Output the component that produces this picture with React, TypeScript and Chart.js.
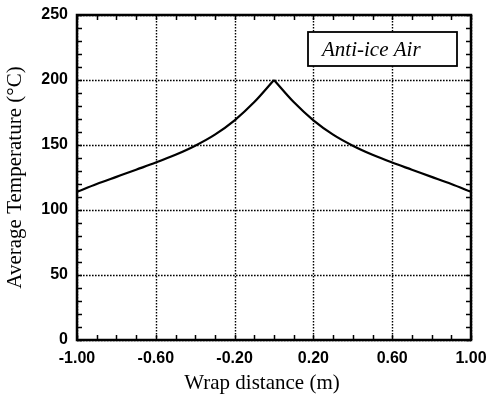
import React, { useEffect, useRef } from "react";
import { Chart, registerables } from "chart.js";

Chart.register(...registerables);

// Wrap distance (m) and average temperature (°C)
const wrapDistance = [-1.0, -0.9, -0.8, -0.7, -0.6, -0.5, -0.4, -0.3, -0.2, -0.1, 0.0, 0.1, 0.2, 0.3, 0.4, 0.5, 0.6, 0.7, 0.8, 0.9, 1.0];
const temperature = [114, 120, 125.5, 131, 136.5, 142.5, 149.5, 158, 169, 183, 200, 183, 169, 158, 149.5, 142.5, 136.5, 131, 125.5, 120, 114];

const xTickValues = [-1.0, -0.6, -0.2, 0.2, 0.6, 1.0];
const yTickValues = [0, 50, 100, 150, 200, 250];
const legendLabel = "Anti-ice Air";
const xTitle = "Wrap distance (m)";
const yTitle = "Average Temperature (°C)";

const frameAndGrid = {
  id: "frameAndGrid",
  beforeDatasetsDraw(chart: any) {
    const { ctx, chartArea: a, scales } = chart;
    const xs = scales.x, ys = scales.y;
    ctx.save();
    ctx.strokeStyle = "#000";
    ctx.lineWidth = 1.4;
    ctx.setLineDash([1.6, 1.4]);
    xTickValues.forEach((v) => {
      const px = Math.round(xs.getPixelForValue(v)) + 0.5;
      ctx.beginPath(); ctx.moveTo(px, a.top); ctx.lineTo(px, a.bottom); ctx.stroke();
    });
    yTickValues.forEach((v) => {
      const py = Math.round(ys.getPixelForValue(v)) + 0.5;
      ctx.beginPath(); ctx.moveTo(a.left, py); ctx.lineTo(a.right, py); ctx.stroke();
    });
    ctx.setLineDash([]);
    ctx.lineWidth = 1.5;
    for (let i = 0; i <= 20; i++) {
      const v = -1 + i * 0.1;
      const px = Math.round(xs.getPixelForValue(v)) + 0.5;
      ctx.beginPath(); ctx.moveTo(px, a.bottom); ctx.lineTo(px, a.bottom - 5); ctx.stroke();
      ctx.beginPath(); ctx.moveTo(px, a.top); ctx.lineTo(px, a.top + 5); ctx.stroke();
    }
    for (let i = 0; i <= 25; i++) {
      const v = i * 10;
      const py = Math.round(ys.getPixelForValue(v)) + 0.5;
      ctx.beginPath(); ctx.moveTo(a.left, py); ctx.lineTo(a.left + 5, py); ctx.stroke();
      ctx.beginPath(); ctx.moveTo(a.right, py); ctx.lineTo(a.right - 5, py); ctx.stroke();
    }
    ctx.restore();
  },
  afterDraw(chart: any) {
    const { ctx, chartArea: a } = chart;
    ctx.save();
    ctx.strokeStyle = "#000";
    ctx.lineWidth = 2.5;
    ctx.strokeRect(a.left, a.top, a.right - a.left, a.bottom - a.top);
    const bx = a.right - 163, by = a.top + 17, bw = 149, bh = 34;
    ctx.fillStyle = "#fff";
    ctx.fillRect(bx, by, bw, bh);
    ctx.lineWidth = 1.8;
    ctx.strokeRect(bx, by, bw, bh);
    ctx.fillStyle = "#000";
    ctx.font = "italic 21px 'Liberation Serif'";
    ctx.textAlign = "left";
    ctx.textBaseline = "middle";
    ctx.fillText(legendLabel, bx + 14, by + bh / 2 + 1);
    // x-axis title (slightly left of the plot centre, as in the original)
    ctx.font = "21px 'Liberation Serif'";
    ctx.textAlign = "center";
    ctx.fillText(xTitle, (a.left + a.right) / 2 - 12, a.bottom + 43);
    ctx.restore();
  },
};

export default function App() {
  const ref = useRef<HTMLCanvasElement>(null);
  useEffect(() => {
    if (!ref.current) return;
    const peak = temperature.indexOf(Math.max(...temperature));
    const pts = wrapDistance.map((x, i) => ({ x, y: temperature[i] }));
    const lineStyle = {
      borderColor: "#000",
      borderWidth: 2.2,
      pointRadius: 0,
      fill: false,
      cubicInterpolationMode: "monotone" as const,
    };
    const chart = new Chart(ref.current, {
      type: "line",
      data: {
        datasets: [
          { ...lineStyle, label: legendLabel, data: pts.slice(0, peak + 1) },
          { ...lineStyle, label: legendLabel, data: pts.slice(peak) },
        ],
      },
      options: {
        animation: false,
        responsive: false,
        layout: { padding: { top: 15, right: 17, left: 0, bottom: 0 } },
        plugins: { legend: { display: false }, tooltip: { enabled: false } },
        scales: {
          x: {
            type: "linear",
            min: -1,
            max: 1,
            afterBuildTicks: (s: any) => { s.ticks = xTickValues.map((v) => ({ value: v })); },
            afterFit: (s: any) => { s.height = 55; s.paddingLeft = 0; s.paddingRight = 0; },
            grid: { display: false, drawTicks: false },
            border: { display: false },
            ticks: {
              color: "#000",
              padding: 9,
              maxRotation: 0,
              font: { family: "'Liberation Sans'", size: 16, weight: "bold" },
              callback: (v: any) => Number(v).toFixed(2),
            },
            title: { display: false, text: xTitle },
          },
          y: {
            type: "linear",
            min: 0,
            max: 250,
            afterBuildTicks: (s: any) => { s.ticks = yTickValues.map((v) => ({ value: v })); },
            afterFit: (s: any) => { s.width = 77; s.paddingTop = 0; s.paddingBottom = 0; },
            grid: { display: false, drawTicks: false },
            border: { display: false },
            ticks: {
              color: "#000",
              padding: 9,
              font: { family: "'Liberation Sans'", size: 16, weight: "bold" },
            },
            title: {
              display: true,
              text: yTitle,
              color: "#000",
              padding: { top: 3, bottom: 0 },
              font: { family: "'Liberation Serif'", size: 21 },
            },
          },
        },
      },
      plugins: [frameAndGrid],
    });
    return () => chart.destroy();
  }, []);
  return (
    <div style={{ position: "absolute", left: 0, top: 0, width: 488, height: 395, background: "#fff" }}>
      <canvas ref={ref} width={488} height={395} />
    </div>
  );
}
